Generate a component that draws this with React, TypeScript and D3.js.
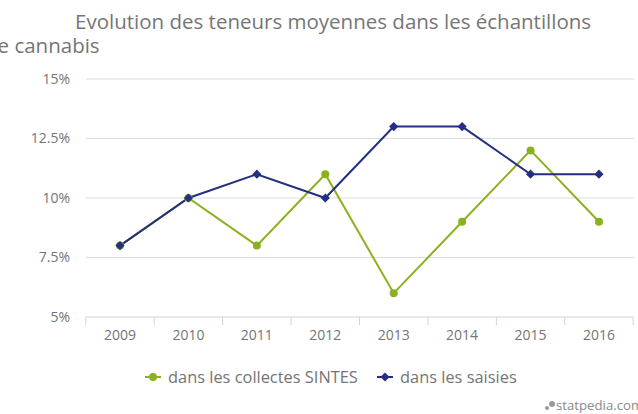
import React from "react";
import * as d3 from "d3";

const years = ["2009", "2010", "2011", "2012", "2013", "2014", "2015", "2016"];
const sintes = [8, 10, 8, 11, 6, 9, 12, 9];
const saisies = [8, 10, 11, 10, 13, 13, 11, 11];
const yTicks = [5, 7.5, 10, 12.5, 15];
const yTickLabels = ["5%", "7.5%", "10%", "12.5%", "15%"];
const titleLines = ["Evolution des teneurs moyennes dans les échantillons", "de cannabis"];
const seriesNames = ["dans les collectes SINTES", "dans les saisies"];

const W = 638, H = 414;
const GREEN = "#8ab21e";
const BLUE = "#24307f";
const TEXT = "#757575";
const FONT = "'Open Sans', sans-serif";

export default function App() {
  const x = d3.scaleBand().domain(years).range([85.8, 633.2]);
  const y = d3.scaleLinear().domain([5, 15]).range([317, 79]);
  const cx = (yr: string) => (x(yr) as number) + x.bandwidth() / 2;
  const line = d3.line<number>().x((_, i) => cx(years[i])).y((v) => y(v));
  const diamond = "M0,-4.6L4.6,0L0,4.6L-4.6,0Z";

  return (
    <svg width={W} height={H} style={{ position: "absolute", left: 0, top: 0, fontFamily: FONT }}>
      <rect width={W} height={H} fill="#fff" />
      <text x={75} y={29} fontSize={20.5} fill={TEXT}>{titleLines[0]}</text>
      <text x={-15} y={53} fontSize={20.5} fill={TEXT}>{titleLines[1]}</text>
      {yTicks.map((t, i) => (
        <g key={t}>
          {t !== 5 && <line x1={86} x2={634} y1={y(t)} y2={y(t)} stroke="#dcdcdc" strokeWidth={1} />}
          <text x={70} y={y(t)} dy="0.35em" textAnchor="end" fontSize={14} fill={TEXT}>{yTickLabels[i]}</text>
        </g>
      ))}
      <line x1={85.8} x2={633.2} y1={y(5)} y2={y(5)} stroke="#c9d5e1" strokeWidth={1} />
      {years.concat(["end"]).map((yr, i) => {
        const xx = 85.8 + i * x.bandwidth();
        return <line key={yr} x1={xx} x2={xx} y1={y(5)} y2={y(5) + 8} stroke="#c9d5e1" strokeWidth={1} />;
      })}
      {years.map((yr) => (
        <text key={yr} x={cx(yr)} y={340} textAnchor="middle" fontSize={14} fill={TEXT}>{yr}</text>
      ))}
      <path d={line(sintes) as string} fill="none" stroke={GREEN} strokeWidth={2} />
      <path d={line(saisies) as string} fill="none" stroke={BLUE} strokeWidth={2} />
      {sintes.map((v, i) => (
        <circle key={"g" + i} cx={cx(years[i])} cy={y(v)} r={4} fill={GREEN} />
      ))}
      {saisies.map((v, i) => (
        <path key={"b" + i} d={diamond} transform={`translate(${cx(years[i])},${y(v)})`} fill={BLUE} />
      ))}
      <g>
        <line x1={145} x2={161} y1={377} y2={377} stroke={GREEN} strokeWidth={2} />
        <circle cx={153} cy={377} r={4} fill={GREEN} />
        <text x={168} y={377} dy="0.35em" fontSize={16.4} fill={TEXT}>{seriesNames[0]}</text>
        <line x1={377} x2={393} y1={377} y2={377} stroke={BLUE} strokeWidth={2} />
        <path d={diamond} transform="translate(385,377)" fill={BLUE} />
        <text x={400} y={377} dy="0.35em" fontSize={16.4} fill={TEXT}>{seriesNames[1]}</text>
      </g>
      <g>
        <circle cx={547} cy={408} r={2} fill="#9a9a9a" />
        <circle cx={552} cy={404} r={3} fill="#9a9a9a" />
        <text x={556} y={410} fontSize={13.2} fill="#8a8a8a">statpedia.com</text>
      </g>
    </svg>
  );
}
